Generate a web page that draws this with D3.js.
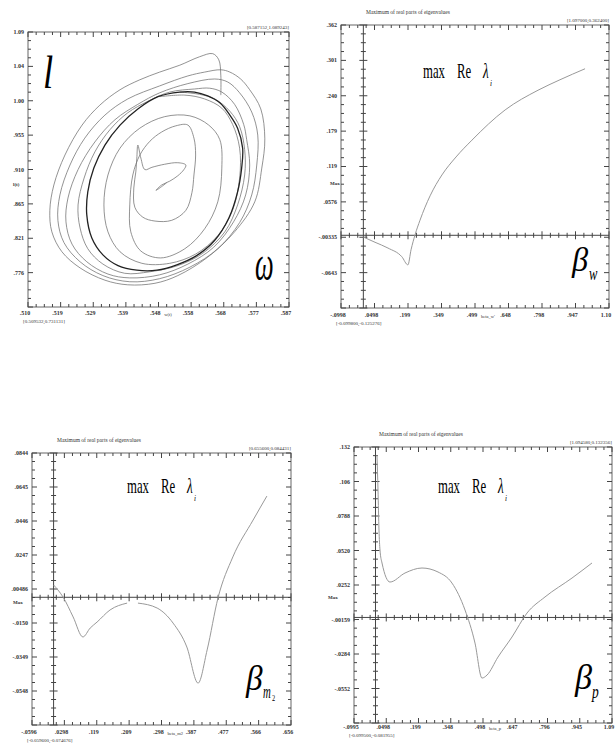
<!DOCTYPE html>
<html>
<head>
<meta charset="utf-8">
<script src="https://cdn.jsdelivr.net/npm/d3@7"></script>
<style>
  body { margin: 0; background: #fff; }
  svg text { font-family: "Liberation Serif", "DejaVu Serif", serif; }
</style>
</head>
<body>
<script>
// ---------------- data ----------------

// phase portrait: trajectory from outside, [omega, l]
var outerOrbit = [
  [.5669,1.007],[.5669,1.033],[.5663,1.053],[.5645,1.061],[.5606,1.057],[.5547,1.046],[.5487,1.037],[.5428,1.027],
  [.5369,1.014],[.5309,.994],[.5256,.968],[.5205,.929],[.5172,.890],[.5160,.857],[.5166,.829],[.5196,.803],
  [.5250,.782],[.5324,.766],[.5392,.760],[.5473,.762],[.5541,.772],[.5630,.796],[.5710,.829],[.5770,.868],
  [.5791,.912],[.5800,.950],[.5788,.989],[.5755,1.014],[.5728,1.028],[.5696,1.037],
  [.5669,1.040],[.5621,1.037],[.5571,1.032],[.5487,1.019],[.5392,1.002],[.5324,.981],[.5264,.951],[.5220,.916],
  [.5190,.877],[.5184,.844],[.5202,.815],[.5250,.790],[.5318,.772],[.5398,.764],[.5487,.768],[.5577,.783],
  [.5660,.807],[.5725,.841],[.5761,.877],[.5776,.916],[.5779,.955],[.5761,.985],[.5725,1.010],[.5690,1.024],
  [.5651,1.028],[.5571,1.022],[.5487,1.010],[.5422,.995],[.5354,.975],[.5294,.946],[.5244,.910],[.5214,.873],
  [.5208,.842],[.5226,.813],[.5270,.790],[.5333,.774],[.5398,.769],[.5487,.773],[.5571,.787],[.5648,.809],
  [.5707,.842],[.5743,.877],[.5755,.916],[.5746,.949],[.5737,.969],[.5710,.995],[.5672,1.011],[.5636,1.016],
  [.5591,1.015],[.5517,1.011],[.5452,.999],[.5392,.984],[.5339,.962],[.5294,.933],[.5262,.899],[.5244,.864],
  [.5250,.834],[.5273,.807],[.5318,.787],[.5383,.775],[.5458,.777],[.5541,.785],[.5615,.801],[.5681,.829],
  [.5719,.864],[.5740,.903],[.5740,.936],[.5725,.966],[.5696,.986],[.5651,1.002],[.5606,1.008],[.5547,1.011]
];

// limit cycle
var limitCycle = [
  [.5547,1.011],[.5482,1.005],[.5422,.989],[.5369,.968],[.5324,.942],[.5291,.912],[.5273,.881],[.5270,.851],
  [.5285,.821],[.5318,.799],[.5363,.785],[.5419,.779],[.5479,.779],[.5538,.786],[.5597,.798],[.5651,.818],
  [.5693,.847],[.5719,.881],[.5731,.912],[.5734,.938],[.5719,.964],[.5696,.981],[.5666,.997],[.5630,1.006],
  [.5591,1.011]
];

// trajectory from near the equilibrium, spiralling out
var innerOrbit = [
  [.5508,.893],[.5487,.886],[.5476,.883],[.5493,.890],[.5517,.895],[.5541,.902],[.5559,.910],[.5565,.916],
  [.5541,.919],[.5502,.917],[.5464,.913],[.5443,.910],[.5431,.925],[.5422,.942],[.5419,.925],[.5416,.907],
  [.5410,.886],[.5413,.861],[.5437,.848],[.5473,.843],[.5523,.844],[.5565,.857],[.5583,.880],[.5589,.903],
  [.5594,.929],[.5589,.951],[.5571,.968],[.5535,.967],[.5493,.959],[.5458,.947],[.5428,.929],[.5407,.903],
  [.5398,.864],[.5401,.829],[.5431,.804],[.5490,.795],[.5562,.807],[.5621,.833],[.5660,.868],[.5672,.912],
  [.5666,.949],[.5633,.968],[.5577,.980],[.5502,.979],[.5428,.964],[.5369,.938],[.5333,.903],[.5321,.864],
  [.5333,.829],[.5369,.803],[.5434,.788],[.5517,.788],[.5594,.800],[.5660,.824],[.5704,.857],[.5725,.899],
  [.5725,.938],[.5704,.969],[.5672,.990],[.5621,1.002],[.5562,1.007],[.5487,1.005]
];

var phaseOmegaTicks = [.5095, .5192, .5289, .5386, .5483, .5580, .5677, .5775, .5872];
var phaseOmegaLabels = [".510", ".519", ".529", ".539", ".548", ".558", ".568", ".577", ".587"];
var phaseLTicks = [1.0892, 1.0444, .9996, .9549, .9101, .8653, .8205, .7758, .7311];
var phaseLLabels = ["1.09", "1.04", "1.00", ".955", ".910", ".865", ".821", ".776"];

// max Re lambda vs beta_w
var betaW = [0.000, 0.052, 0.110, 0.172, 0.199, 0.213, 0.231, 0.253, 0.298, 0.351, 0.414, 0.485, 0.633, 0.780, 0.878, 0.990];
var maxReW = [-0.003, -0.012, -0.022, -0.037, -0.051, -0.025, 0.001, 0.026, 0.068, 0.104, 0.135, 0.164, 0.216, 0.250, 0.268, 0.287];
var wXTicks = [-.0998, .0498, .1994, .3490, .4986, .6482, .7978, .9474, 1.097];
var wXLabels = ["-.0998", ".0498", ".199", ".349", ".499", ".648", ".798", ".947", "1.10"];
var wYTicks = [.3624, .3014, .2405, .1795, .1186, .0576, -.0034, -.0643, -.1253];
var wYLabels = [".362", ".301", ".240", ".179", ".119", ".0576", "-.00335", "-.0643"];

// max Re lambda vs beta_m2 (null = gap in the curve)
var betaM2 = [0.000, 0.012, 0.026, 0.054, 0.081, 0.101, 0.120, 0.156, 0.203, 0.218, 0.233, 0.286, 0.330, 0.368, 0.399, 0.424, 0.454, 0.495, 0.551, 0.589];
var maxReM2 = [0.0072, 0.0043, 0.0002, -0.0115, -0.0232, -0.0180, -0.0145, -0.0074, -0.0034, null, -0.0034, -0.0063, -0.0151, -0.0291, -0.0502, -0.0308, -0.0004, 0.0236, 0.0452, 0.0592];
var m2XTicks = [-.0596, .0298, .1193, .2087, .2981, .3875, .4769, .5662, .6556];
var m2XLabels = ["-.0596", ".0298", ".119", ".209", ".298", ".387", ".477", ".566", ".656"];
var m2YTicks = [.0844, .0645, .0446, .0247, .00486, -.0150, -.0349, -.0548, -.0747];
var m2YLabels = [".0844", ".0645", ".0446", ".0247", ".00486", "-.0150", "-.0349", "-.0548"];

// max Re lambda vs beta_p
var betaP = [0.0069, 0.0116, 0.0162, 0.0208, 0.0301, 0.0671, 0.1365, 0.2152, 0.2893, 0.3540, 0.4142, 0.4605, 0.4929, 0.5160, 0.5669, 0.6317, 0.7011, 0.7844, 0.9094, 1.0020];
var maxReP = [0.1262, 0.0990, 0.0679, 0.0524, 0.0423, 0.0275, 0.0345, 0.0384, 0.0353, 0.0267, 0.0058, -0.0199, -0.0471, -0.0448, -0.0308, -0.0152, 0.0034, 0.0159, 0.0306, 0.0423];
var pXTicks = [-.0995, .0498, .1990, .3483, .4976, .6468, .7961, .9453, 1.0946];
var pXLabels = ["-.0995", ".0498", ".199", ".348", ".498", ".647", ".796", ".945", "1.09"];
var pYTicks = [.1324, .1056, .0788, .0520, .0252, -.0016, -.0284, -.0552, -.0820];
var pYLabels = [".132", ".106", ".0788", ".0520", ".0252", "-.00159", "-.0284", "-.0552"];

// ---------------- drawing ----------------

var svgWidth = 616;
var svgHeight = 743;

var svg = d3.select("body")
  .append("svg")
  .attr("width", svgWidth)
  .attr("height", svgHeight);

svg.append("rect").attr("width", svgWidth).attr("height", svgHeight).attr("fill", "#fff");

// one XPPAUT-style frame; returns its scales
function drawPanel(p) {
  var g = svg.append("g");
  var L = p.box[0], T = p.box[1], R = p.box[2], B = p.box[3];
  var x = d3.scaleLinear().domain([p.xTicks[0], p.xTicks[8]]).range([L, R]);
  var y = d3.scaleLinear().domain([p.yTicks[8], p.yTicks[0]]).range([B, T]);

  // 4 small divisions per labelled interval
  var xAll = d3.range(33).map(function (i) { return p.xTicks[0] + i * (p.xTicks[8] - p.xTicks[0]) / 32; });
  var yAll = d3.range(33).map(function (i) { return p.yTicks[8] + i * (p.yTicks[0] - p.yTicks[8]) / 32; });

  g.append("rect")
    .attr("x", L).attr("y", T)
    .attr("width", R - L).attr("height", B - T)
    .attr("fill", "none").attr("stroke", "#666").attr("stroke-width", 1);

  // frame ticks pointing inward, collected into one path
  var d = "";
  xAll.forEach(function (v, i) {
    var s = i % 4 === 0 ? 5 : 3;
    d += "M" + x(v) + "," + T + "v" + s + "M" + x(v) + "," + B + "v" + (-s);
  });
  yAll.forEach(function (v, i) {
    var s = i % 4 === 0 ? 5 : 3;
    d += "M" + L + "," + y(v) + "h" + s + "M" + R + "," + y(v) + "h" + (-s);
  });

  // crossed inner axes through zero
  if (p.inner) {
    var x0 = x(0), y0 = y(0);
    d += "M" + x0 + "," + T + "V" + B + "M" + L + "," + y0 + "H" + R;
    yAll.forEach(function (v, i) {
      var s = i % 4 === 0 ? 4 : 2.5;
      d += "M" + (x0 - s) + "," + y(v) + "h" + (2 * s);
    });
    xAll.forEach(function (v, i) {
      var s = i % 4 === 0 ? 4 : 2.5;
      d += "M" + x(v) + "," + (y0 - s) + "v" + (2 * s);
    });
  }
  g.append("path").attr("d", d).attr("fill", "none")
    .attr("stroke", "#444").attr("stroke-width", 1);

  // tick labels
  g.selectAll(null).data(p.yTicks.slice(0, p.yLabels.length)).enter().append("text")
    .attr("x", L - 4).attr("y", function (d) { return y(d) + 2; })
    .attr("text-anchor", "end").attr("font-size", 6).attr("font-weight", "bold").attr("fill", "#333")
    .text(function (d, i) { return p.yLabels[i]; });

  g.selectAll(null).data(p.xTicks).enter().append("text")
    .attr("x", function (d) { return x(d) - 3; }).attr("y", B + p.xLabelDy)
    .attr("text-anchor", "middle").attr("font-size", 6).attr("font-weight", "bold").attr("fill", "#333")
    .text(function (d, i) { return p.xLabels[i]; });

  // corner coordinates, title, axis names
  g.append("text").attr("x", R).attr("y", T - 3)
    .attr("text-anchor", "end").attr("font-size", 5).attr("fill", "#333").text(p.cornerTop);
  g.append("text").attr("x", L - 5).attr("y", B + p.xLabelDy + 8)
    .attr("font-size", 5).attr("fill", "#333").text(p.cornerBottom);
  if (p.title) {
    g.append("text").attr("x", L + 25).attr("y", T - 11)
      .attr("font-size", 5.5).attr("fill", "#333").text(p.title);
  }
  g.append("text").attr("x", x(p.xTicks[4]) + 6).attr("y", B + p.xLabelDy + 1)
    .attr("font-size", 4.5).attr("fill", "#333").text(p.xName);
  g.append("text").attr("x", p.yName[0]).attr("y", p.yName[1])
    .attr("font-size", 5).attr("font-weight", "bold").attr("fill", "#333").text(p.yName[2]);

  return { x: x, y: y, g: g };
}

// condensed serif text helper
function label(g, txt, x, y, size, sx, italic) {
  return g.append("text")
    .attr("transform", "translate(" + x + "," + y + ") scale(" + sx + ",1)")
    .attr("font-size", size)
    .attr("font-style", italic ? "italic" : "normal")
    .attr("fill", "#000")
    .text(txt);
}

function maxReLabel(g, x, y) {
  label(g, "max", x, y, 22, 0.58, false);
  label(g, "Re", x + 34, y, 22, 0.58, false);
  label(g, "λ", x + 60, y, 22, 0.6, true);
  label(g, "i", x + 67, y + 8, 9, 0.8, true);
}

// ---- panel 1: phase portrait ----
var p1 = drawPanel({
  box: [28, 32, 289, 307],
  xTicks: phaseOmegaTicks, xLabels: phaseOmegaLabels,
  yTicks: phaseLTicks, yLabels: phaseLLabels,
  xLabelDy: 8,
  cornerTop: "[0.587152,1.089243]", cornerBottom: "[0.509532,0.731131]",
  xName: "w(t)", yName: [13, 186, "l(t)"]
});

var phaseLine = d3.line()
  .x(function (d) { return p1.x(d[0]); })
  .y(function (d) { return p1.y(d[1]); })
  .curve(d3.curveCatmullRom.alpha(0.5));

p1.g.append("path").attr("d", phaseLine(outerOrbit))
  .attr("fill", "none").attr("stroke", "#777").attr("stroke-width", 0.8);
p1.g.append("path").attr("d", phaseLine(innerOrbit))
  .attr("fill", "none").attr("stroke", "#777").attr("stroke-width", 0.8);
p1.g.append("path").attr("d", phaseLine.curve(d3.curveCatmullRomClosed.alpha(0.5))(limitCycle))
  .attr("fill", "none").attr("stroke", "#222").attr("stroke-width", 1.3);

label(p1.g, "l", 43, 88, 46, 0.8, true);
label(p1.g, "ω", 255, 280, 48, 0.55, true);

// ---- bifurcation panels ----
function bifPanel(cfg, xs, ys) {
  var p = drawPanel(cfg);
  var line = d3.line()
    .defined(function (d) { return d[1] !== null; })
    .x(function (d) { return p.x(d[0]); })
    .y(function (d) { return p.y(d[1]); })
    .curve(d3.curveMonotoneX);
  p.g.append("path").attr("d", line(d3.zip(xs, ys)))
    .attr("fill", "none").attr("stroke", "#999").attr("stroke-width", 1);
  return p;
}

var p2 = bifPanel({
  box: [341, 25, 609, 308], inner: true,
  xTicks: wXTicks, xLabels: wXLabels, yTicks: wYTicks, yLabels: wYLabels,
  xLabelDy: 9,
  title: "Maximum of real parts of eigenvalues",
  cornerTop: "[1.097000,0.362400]", cornerBottom: "[-0.099800,-0.125276]",
  xName: "beta_w'", yName: [330, 185, "Max"]
}, betaW, maxReW);
maxReLabel(p2.g, 423, 78);
label(p2.g, "β", 572, 271, 34, 0.95, true);
label(p2.g, "w", 589, 280, 18, 0.7, true);

var p3 = bifPanel({
  box: [32, 453, 291, 725], inner: true,
  xTicks: m2XTicks, xLabels: m2XLabels, yTicks: m2YTicks, yLabels: m2YLabels,
  xLabelDy: 9,
  title: "Maximum of real parts of eigenvalues",
  cornerTop: "[0.655600,0.084431]", cornerBottom: "[-0.059600,-0.074676]",
  xName: "beta_m2", yName: [13, 604, "Max"]
}, betaM2, maxReM2);
maxReLabel(p3.g, 127, 493);
label(p3.g, "β", 246, 690, 35, 0.95, true);
label(p3.g, "m", 263, 698, 18, 0.6, true);
label(p3.g, "2", 272, 701, 9, 0.7, false);

var p4 = bifPanel({
  box: [354, 447, 612, 723], inner: true,
  xTicks: pXTicks, xLabels: pXLabels, yTicks: pYTicks, yLabels: pYLabels,
  xLabelDy: 6,
  title: "Maximum of real parts of eigenvalues",
  cornerTop: "[1.094580,0.132356]", cornerBottom: "[-0.099500,-0.081955]",
  xName: "beta_p", yName: [328, 599, "Max"]
}, betaP, maxReP);
maxReLabel(p4.g, 438, 493);
label(p4.g, "β", 575, 689, 36, 0.95, true);
label(p4.g, "p", 592, 698, 18, 0.75, true);
</script>
</body>
</html>
